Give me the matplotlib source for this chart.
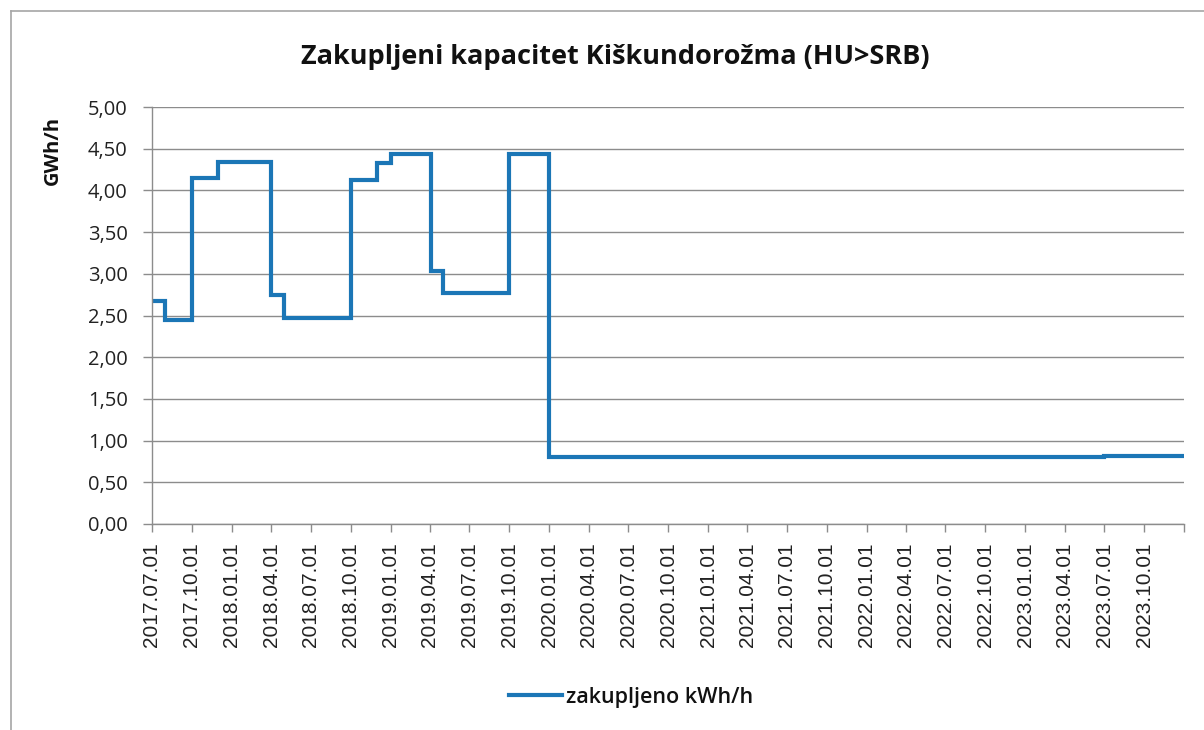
import matplotlib
matplotlib.use("Agg")
import matplotlib.pyplot as plt
from matplotlib.ticker import FuncFormatter, MultipleLocator
from matplotlib.lines import Line2D
import pandas as pd

# ---- data ----
change_dates = ['2017-07-01', '2017-08-01', '2017-10-01', '2017-12-01', '2018-04-01',
                '2018-05-01', '2018-10-01', '2018-12-01', '2019-01-01', '2019-04-03',
                '2019-05-01', '2019-10-01', '2020-01-01', '2023-07-01', '2024-01-01']
capacity_gwh = [2.67, 2.45, 4.15, 4.34, 2.74,
                2.47, 4.12, 4.33, 4.44, 3.03,
                2.77, 4.44, 0.80, 0.81, 0.81]
tick_dates = pd.date_range('2017-07-01', '2024-01-01', freq='QS-JAN')
title_text = 'Zakupljeni kapacitet Kiškundorožma (HU>SRB)'
ylabel_text = 'GWh/h'
legend_text = 'zakupljeno kWh/h'

line_color = '#1b76b6'
grid_color = '#8c8c8c'

W, H = 1204, 730
fig = plt.figure(figsize=(W / 100, H / 100), dpi=100)
ax = fig.add_axes([152 / W, 1 - 524 / H, (1184 - 152) / W, (524 - 107) / H])

x = pd.to_datetime(change_dates)
ln, = ax.step(x, capacity_gwh, where='post', color=line_color, lw=3.0,
              solid_joinstyle='miter', label=legend_text)

ax.set_xlim(pd.Timestamp('2017-07-01'), pd.Timestamp('2024-01-01'))
ax.set_ylim(0, 5)
ax.yaxis.set_major_locator(MultipleLocator(0.5))
ax.yaxis.set_major_formatter(FuncFormatter(lambda v, p: f'{v:.2f}'.replace('.', ',')))
ax.set_xticks(tick_dates)
ax.set_xticklabels([d.strftime('%Y.%m.%d') if d < pd.Timestamp('2024-01-01') else ''
                    for d in tick_dates], rotation=90, family='Liberation Sans', fontsize=15)
for lab in ax.get_yticklabels():
    lab.set_family('Open Sans')
    lab.set_fontsize(14.5)

ax.grid(axis='y', color=grid_color, lw=1.0)
ax.set_axisbelow(True)
for s in ['top', 'right']:
    ax.spines[s].set_visible(False)
for s in ['left', 'bottom']:
    ax.spines[s].set_color(grid_color)
    ax.spines[s].set_linewidth(1.0)
ax.tick_params(axis='y', direction='out', length=6.5, width=1.0, color=grid_color,
               pad=11, labelcolor='#222222')
ax.tick_params(axis='x', direction='out', length=6, width=1.0, color=grid_color,
               pad=7, labelcolor='#222222')

ax.set_ylabel(ylabel_text, family='Open Sans', fontweight='bold', fontsize=14.5, color='#111111')
ax.yaxis.set_label_coords(-0.086, 0.897)

fig.text(615.5 / W, 1 - 57 / H, title_text, ha='center', va='center',
         family='Open Sans', fontweight='bold', fontsize=19.5, color='#111111')

# legend
leg = fig.legend(handles=[ln], loc='center', bbox_to_anchor=(631 / W, 1 - 697 / H),
                 frameon=False, handlelength=2.45, handletextpad=0.2,
                 prop={'family': 'Open Sans', 'weight': 'semibold', 'size': 15.5})
for t in leg.get_texts():
    t.set_color('#111111')

# chart-area border (top and left visible)
fig.add_artist(Line2D([11 / W, 11 / W], [0, 1 - 11 / H], transform=fig.transFigure,
                      color='#a6a6a6', lw=1.2))
fig.add_artist(Line2D([11 / W, 1], [1 - 11 / H, 1 - 11 / H], transform=fig.transFigure,
                      color='#a6a6a6', lw=1.2))

fig.savefig('out.png', dpi=100, facecolor='white')
